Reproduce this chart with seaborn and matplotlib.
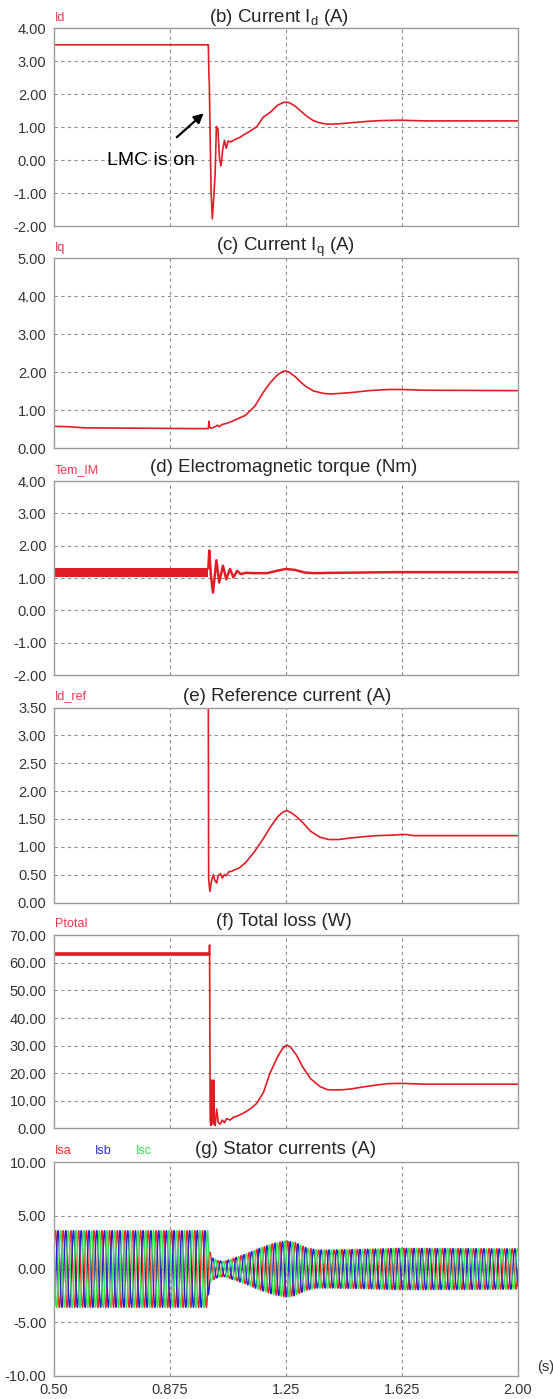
import numpy as np
import pandas as pd
import matplotlib
matplotlib.use("Agg")
import matplotlib.pyplot as plt
import seaborn as sns

# ---------------- data ----------------
x_ticks = [0.50, 0.875, 1.25, 1.625, 2.00]
x_tick_labels = ["0.50", "0.875", "1.25", "1.625", "2.00"]

# (b) Id
id_t = [0.500, 0.999, 1.000, 1.002, 1.003, 1.006, 1.009, 1.013, 1.017, 1.022, 1.026,
        1.031, 1.036, 1.041, 1.046, 1.052, 1.058, 1.064, 1.072, 1.085, 1.100, 1.113,
        1.135, 1.157, 1.177, 1.200, 1.223, 1.240, 1.250, 1.262, 1.280, 1.297, 1.318,
        1.339, 1.360, 1.384, 1.420, 1.470, 1.520, 1.560, 1.620, 1.700, 2.000]
id_v = [3.50, 3.50, 3.50, 2.50, 2.45, 0.65, -1.00, -1.78, -1.20, -0.40, 1.02,
        0.95, 0.05, -0.18, 0.30, 0.60, 0.36, 0.58, 0.55, 0.62, 0.68, 0.76,
        0.88, 1.02, 1.30, 1.45, 1.66, 1.74, 1.76, 1.74, 1.64, 1.50, 1.33,
        1.20, 1.13, 1.09, 1.10, 1.14, 1.18, 1.20, 1.21, 1.19, 1.19]

# (c) Iq
iq_t = [0.50, 0.55, 0.60, 0.80, 0.95, 1.000, 1.002, 1.004, 1.008, 1.02, 1.03, 1.035,
        1.045, 1.06, 1.07, 1.09, 1.12, 1.15, 1.178, 1.20, 1.224, 1.24, 1.25, 1.26,
        1.28, 1.30, 1.315, 1.34, 1.37, 1.394, 1.43, 1.463, 1.52, 1.58, 1.623, 1.70, 2.00]
iq_v = [0.57, 0.56, 0.53, 0.52, 0.51, 0.51, 0.70, 0.55, 0.52, 0.55, 0.60, 0.56,
        0.62, 0.65, 0.68, 0.75, 0.86, 1.10, 1.47, 1.72, 1.93, 2.01, 2.03, 2.00,
        1.88, 1.72, 1.62, 1.50, 1.44, 1.42, 1.44, 1.46, 1.51, 1.54, 1.54, 1.52, 1.51]

# (d) Electromagnetic torque: ripple band before LMC, trace after
tq_band_t = [0.50, 1.00]
tq_band_lo = [1.04, 1.04]
tq_band_hi = [1.31, 1.31]
tq_t = [1.000, 1.003, 1.008, 1.015, 1.026, 1.035, 1.047, 1.058, 1.070, 1.081, 1.093, 1.105,
        1.121, 1.15, 1.19, 1.22, 1.25, 1.28, 1.31, 1.34, 1.40, 1.50, 1.60, 2.00]
tq_v = [1.30, 1.85, 1.10, 0.55, 1.55, 0.86, 1.38, 0.96, 1.28, 1.02, 1.22, 1.12,
        1.16, 1.15, 1.15, 1.22, 1.28, 1.25, 1.17, 1.15, 1.16, 1.17, 1.18, 1.18]

# (e) Id_ref
ir_t = [0.500, 1.000, 1.001, 1.005, 1.010, 1.016, 1.021, 1.027, 1.032, 1.039, 1.045, 1.052,
        1.058, 1.066, 1.075, 1.09, 1.10, 1.121, 1.15, 1.178, 1.20, 1.224, 1.24, 1.252,
        1.265, 1.285, 1.304, 1.33, 1.361, 1.39, 1.42, 1.463, 1.50, 1.543, 1.60, 1.623,
        1.64, 1.663, 2.00]
ir_v = [3.50, 3.50, 0.42, 0.20, 0.38, 0.50, 0.40, 0.35, 0.48, 0.52, 0.44, 0.50,
        0.48, 0.55, 0.56, 0.60, 0.62, 0.72, 0.92, 1.15, 1.35, 1.54, 1.62, 1.65,
        1.62, 1.54, 1.44, 1.28, 1.17, 1.13, 1.13, 1.16, 1.18, 1.20, 1.21, 1.22,
        1.22, 1.20, 1.20]

# (f) Ptotal
pt_t = [0.500, 1.003, 1.004, 1.005, 1.006, 1.008, 1.010, 1.011, 1.013, 1.015, 1.018, 1.019,
        1.022, 1.027, 1.032, 1.038, 1.045, 1.052, 1.059, 1.070, 1.081, 1.095, 1.113, 1.135,
        1.156, 1.178, 1.199, 1.224, 1.240, 1.253, 1.265, 1.285, 1.304, 1.330, 1.361, 1.385,
        1.406, 1.435, 1.463, 1.50, 1.543, 1.58, 1.623, 1.70, 2.00]
pt_v = [63.2, 63.2, 66.5, 35.0, 3.0, 1.0, 12.0, 17.5, 2.0, 1.5, 17.5, 3.0,
        1.0, 7.0, 2.0, 1.5, 3.0, 2.0, 3.5, 3.0, 4.0, 4.5, 5.5, 7.0,
        9.0, 13.0, 20.0, 26.0, 29.0, 30.2, 29.5, 26.5, 22.4, 18.0, 15.1, 14.0,
        13.9, 14.0, 14.3, 15.0, 15.7, 16.2, 16.3, 16.0, 16.0]

# (g) Stator currents: envelope (peak amplitude), supply frequency
amp_t = [0.50, 0.998, 1.002, 1.010, 1.030, 1.050, 1.080, 1.120, 1.160, 1.210, 1.250,
         1.280, 1.316, 1.350, 1.400, 1.500, 1.620, 2.000]
amp_v = [3.6, 3.6, 2.0, 1.1, 0.8, 0.7, 1.0, 1.4, 1.9, 2.4, 2.65,
         2.5, 2.0, 1.8, 1.8, 1.85, 1.95, 1.9]
f_supply = 40.0
phase_names = ["Isa", "Isb", "Isc"]
phase_shift_deg = [0, -120, 120]

# ---------------- style ----------------
sns.set_theme(style="white")
plt.rcParams["font.family"] = ["Liberation Sans", "DejaVu Sans"]
plt.rcParams["mathtext.fontset"] = "custom"
plt.rcParams["mathtext.rm"] = "Liberation Sans"
plt.rcParams["mathtext.it"] = "Liberation Sans:italic"

RED = "#e01c24"
LABEL_RED = "#e8394f"
GRID = "#8c8c8c"
FRAME = "#9a9a9a"
TICK = "#333333"

W, H = 553, 1399
fig = plt.figure(figsize=(W / 100, H / 100), dpi=100)
fig.patch.set_facecolor("white")

L, R = 53.5, 518.0


def make_ax(top, bottom):
    return fig.add_axes([L / W, 1 - bottom / H, (R - L) / W, (bottom - top) / H])


def style_ax(ax, ylim, yticks, last=False):
    ax.set_xlim(0.5, 2.0)
    ax.set_ylim(*ylim)
    ax.set_yticks(yticks)
    ax.set_yticklabels([f"{v:.2f}" for v in yticks], fontsize=10.5, color=TICK)
    ax.set_xticks(x_ticks)
    if last:
        ax.set_xticklabels(x_tick_labels, fontsize=10.5, color=TICK)
    else:
        ax.set_xticklabels([])
    ax.tick_params(axis="both", length=0, pad=5)
    for s in ax.spines.values():
        s.set_color(FRAME)
        s.set_linewidth(1.0)
    for v in yticks[1:-1]:
        ax.axhline(v, color=GRID, lw=0.8, ls=(0, (3, 3)), zorder=0)
    for v in x_ticks[1:-1]:
        ax.axvline(v, color=GRID, lw=0.8, ls=(0, (3, 3)), zorder=0)
    ax.set_xlabel("")
    ax.set_ylabel("")


def line(ax, t, v, lw=1.2):
    df = pd.DataFrame({"t": t, "v": v})
    sns.lineplot(data=df, x="t", y="v", ax=ax, color=RED, lw=lw,
                 estimator=None, sort=False, legend=False)


def px(x, y, s, **kw):
    fig.text(x / W, 1 - y / H, s, **kw)


# (b)
ax_b = make_ax(28.3, 226.0)
line(ax_b, id_t, id_v)
style_ax(ax_b, (-2, 4), [-2, -1, 0, 1, 2, 3, 4])
ax_b.annotate("LMC is on", xy=(0.985, 1.42), xytext=(0.815, 0.0),
              fontsize=14, ha="center", va="center", color="black",
              arrowprops=dict(arrowstyle="-|>", color="black", lw=1.6,
                              mutation_scale=14, shrinkA=12, shrinkB=0))
px(279, 17, "(b) Current I$_\\mathrm{d}$ (A)", fontsize=13.5, ha="center", va="center")
px(55, 18, "Id", fontsize=9, color=LABEL_RED, ha="left", va="center")

# (c)
ax_c = make_ax(258.0, 448.0)
line(ax_c, iq_t, iq_v)
style_ax(ax_c, (0, 5), [0, 1, 2, 3, 4, 5])
px(286, 247, "(c) Current I$_\\mathrm{q}$ (A)", fontsize=13.5, ha="center", va="center")
px(55, 248, "Iq", fontsize=9, color=LABEL_RED, ha="left", va="center")

# (d)
ax_d = make_ax(481.0, 675.0)
ax_d.fill_between(tq_band_t, tq_band_lo, tq_band_hi, color=RED, lw=0, zorder=2)
line(ax_d, tq_t, tq_v, lw=1.8)
style_ax(ax_d, (-2, 4), [-2, -1, 0, 1, 2, 3, 4])
px(284, 468, "(d) Electromagnetic torque (Nm)", fontsize=13.5, ha="center", va="center")
px(55, 470, "Tem_IM", fontsize=9, color=LABEL_RED, ha="left", va="center")

# (e)
ax_e = make_ax(707.5, 902.5)
line(ax_e, ir_t, ir_v)
style_ax(ax_e, (0, 3.5), [0, 0.5, 1.0, 1.5, 2.0, 2.5, 3.0, 3.5])
px(287, 696, "(e) Reference current (A)", fontsize=13.5, ha="center", va="center")
px(55, 696, "Id_ref", fontsize=9, color=LABEL_RED, ha="left", va="center")

# (f)
ax_f = make_ax(935.3, 1128.3)
line(ax_f, pt_t[:2], pt_v[:2], lw=2.6)
line(ax_f, pt_t[1:], pt_v[1:], lw=1.2)
style_ax(ax_f, (0, 70), [0, 10, 20, 30, 40, 50, 60, 70])
px(284, 921, "(f) Total loss (W)", fontsize=13.5, ha="center", va="center")
px(55, 924, "Ptotal", fontsize=9, color=LABEL_RED, ha="left", va="center")

# (g)
ax_g = make_ax(1162.4, 1375.6)
ts = np.arange(0.5, 2.0, 0.0001)
env = np.interp(ts, amp_t, amp_v)
frames = []
for name, sh in zip(phase_names, phase_shift_deg):
    frames.append(pd.DataFrame({"t": ts,
                                "I": env * np.sin(2 * np.pi * f_supply * ts + np.deg2rad(sh)),
                                "phase": name}))
df_g = pd.concat(frames, ignore_index=True)
sns.lineplot(data=df_g, x="t", y="I", hue="phase", ax=ax_g,
             palette={"Isa": "#ff1f1f", "Isb": "#1f1fd6", "Isc": "#2fe84a"},
             hue_order=phase_names, lw=1.0, estimator=None, sort=False, legend=False)
style_ax(ax_g, (-10, 10), [-10, -5, 0, 5, 10], last=True)
px(286, 1150, "(g) Stator currents (A)", fontsize=13.5, ha="center", va="center")
px(55, 1151, "Isa", fontsize=9, color="#ff2a2a", ha="left", va="center")
px(95, 1151, "Isb", fontsize=9, color="#2a2ad0", ha="left", va="center")
px(136, 1151, "Isc", fontsize=9, color="#33e050", ha="left", va="center")
px(546, 1367, "(s)", fontsize=10.5, color=TICK, ha="center", va="center")

fig.savefig("out.png", dpi=100, facecolor="white")
